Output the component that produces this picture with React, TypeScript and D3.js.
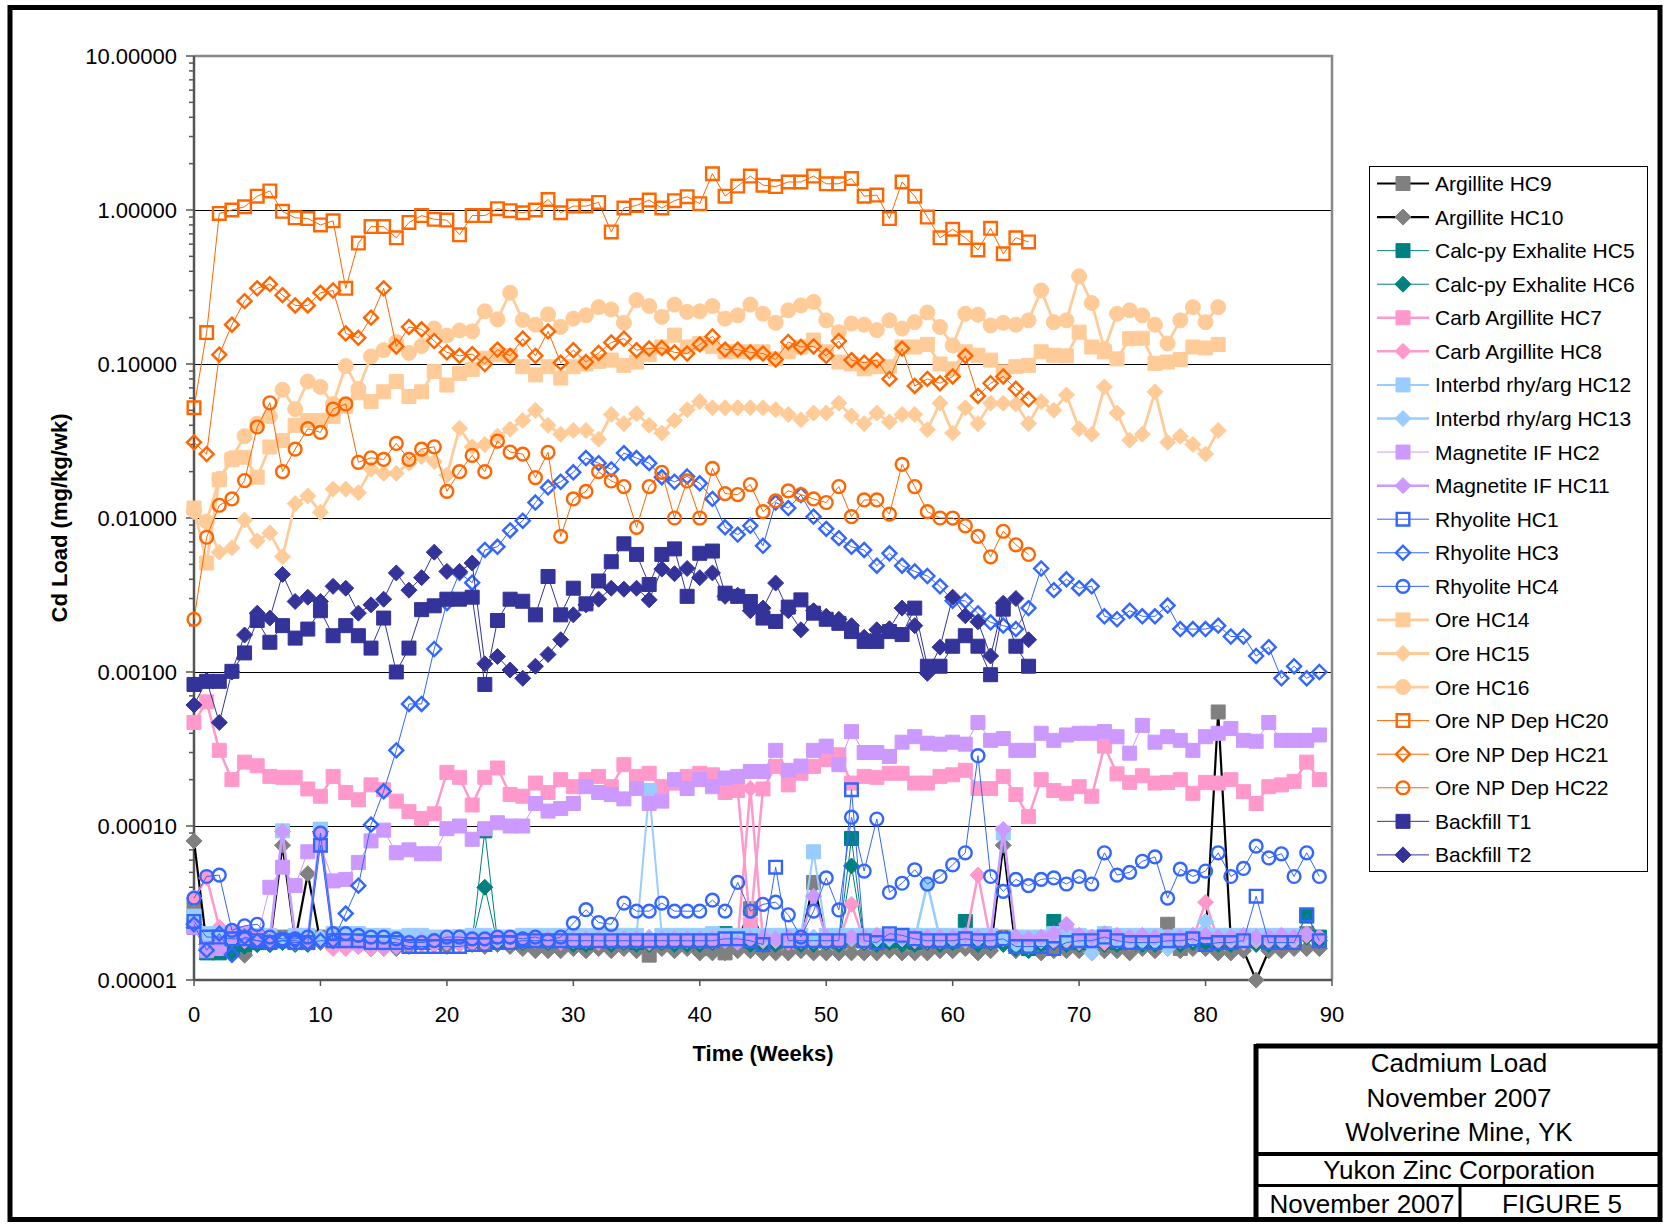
import React, { useEffect, useRef } from 'react';
import * as d3 from 'd3';

// weekly Cd load, mg/kg/wk (index = week)
const argilliteHC9 = [
  3.0e-5, 1.8e-5, 1.7e-5, 1.6e-5, 1.6e-5, 1.8e-5, 1.8e-5, 1.9e-5, 1.8e-5, 1.8e-5,
  1.9e-5, 1.8e-5, 1.8e-5, 1.75e-5, 1.8e-5, 1.75e-5, 1.8e-5, 1.9e-5, 1.9e-5, 1.85e-5,
  1.85e-5, 1.9e-5, 1.85e-5, 1.85e-5, 1.8e-5, 1.8e-5, 1.85e-5, 1.9e-5, 1.8e-5, 1.75e-5,
  1.8e-5, 1.8e-5, 1.8e-5, 1.75e-5, 1.8e-5, 1.8e-5, 1.45e-5, 1.8e-5, 1.8e-5, 1.75e-5,
  1.75e-5, 1.6e-5, 1.5e-5, 1.8e-5, 2.9e-5, 1.8e-5, 1.75e-5, 1.8e-5, 1.8e-5, 4.3e-5,
  1.8e-5, 1.75e-5, 1.8e-5, 1.8e-5, 1.8e-5, 1.75e-5, 1.8e-5, 1.8e-5, 1.75e-5, 1.8e-5,
  1.8e-5, 1.8e-5, 1.75e-5, 1.8e-5, 1.9e-5, 1.8e-5, 1.75e-5, 1.8e-5, 1.75e-5, 1.8e-5,
  1.75e-5, 1.8e-5, 1.8e-5, 1.75e-5, 1.8e-5, 1.8e-5, 1.8e-5, 2.3e-5, 1.6e-5, 1.8e-5,
  1.8e-5, 5.5e-4, 1.8e-5, 1.8e-5, 1.8e-5, 1.8e-5, 1.8e-5, 1.8e-5, 2.0e-5, 1.8e-5,
];
const argilliteHC10 = [
  8.0e-5, 1.7e-5, 1.6e-5, 1.5e-5, 1.45e-5, 1.7e-5, 1.7e-5, 7.5e-5, 1.8e-5, 4.9e-5,
  1.75e-5, 1.65e-5, 1.7e-5, 1.65e-5, 1.6e-5, 1.6e-5, 1.6e-5, 1.65e-5, 1.7e-5, 1.7e-5,
  1.65e-5, 1.7e-5, 1.7e-5, 1.65e-5, 1.7e-5, 1.65e-5, 1.6e-5, 1.55e-5, 1.55e-5, 1.55e-5,
  1.6e-5, 1.55e-5, 1.6e-5, 1.55e-5, 1.6e-5, 1.55e-5, 1.6e-5, 1.6e-5, 1.55e-5, 1.6e-5,
  1.5e-5, 1.5e-5, 1.5e-5, 1.55e-5, 1.55e-5, 1.5e-5, 1.5e-5, 1.5e-5, 1.55e-5, 1.5e-5,
  1.5e-5, 1.5e-5, 1.5e-5, 1.5e-5, 1.5e-5, 1.55e-5, 1.5e-5, 1.5e-5, 1.5e-5, 1.55e-5,
  1.55e-5, 1.6e-5, 1.5e-5, 1.55e-5, 7.5e-5, 1.55e-5, 1.6e-5, 1.5e-5, 1.55e-5, 1.55e-5,
  1.55e-5, 1.5e-5, 1.55e-5, 1.55e-5, 1.5e-5, 1.6e-5, 1.55e-5, 1.6e-5, 1.55e-5, 1.6e-5,
  1.6e-5, 1.5e-5, 1.5e-5, 1.55e-5, 1.0e-5, 1.55e-5, 1.55e-5, 1.6e-5, 1.6e-5, 1.6e-5,
];
const calcpyHC5 = [
  2.2e-5, 1.5e-5, 1.5e-5, 1.6e-5, 1.7e-5, 1.75e-5, 1.75e-5, 1.8e-5, 1.75e-5, 1.75e-5,
  9.5e-5, 1.8e-5, 1.8e-5, 1.75e-5, 1.8e-5, 1.75e-5, 1.8e-5, 1.8e-5, 1.75e-5, 1.75e-5,
  1.8e-5, 1.8e-5, 1.8e-5, 9.3e-5, 1.8e-5, 1.8e-5, 1.8e-5, 1.85e-5, 1.8e-5, 1.8e-5,
  1.8e-5, 1.75e-5, 1.8e-5, 1.8e-5, 1.8e-5, 1.75e-5, 1.8e-5, 1.8e-5, 1.8e-5, 1.8e-5,
  1.8e-5, 1.85e-5, 2.0e-5, 1.9e-5, 1.8e-5, 1.75e-5, 1.8e-5, 1.8e-5, 1.8e-5, 1.8e-5,
  1.8e-5, 1.8e-5, 8.3e-5, 1.8e-5, 1.75e-5, 1.8e-5, 1.8e-5, 1.75e-5, 1.8e-5, 1.8e-5,
  1.8e-5, 2.4e-5, 1.8e-5, 1.8e-5, 1.85e-5, 1.7e-5, 1.6e-5, 1.75e-5, 2.4e-5, 1.8e-5,
  1.75e-5, 1.8e-5, 1.8e-5, 1.75e-5, 1.8e-5, 1.75e-5, 1.8e-5, 1.8e-5, 1.8e-5, 1.85e-5,
  1.8e-5, 1.75e-5, 1.75e-5, 1.8e-5, 1.8e-5, 1.75e-5, 1.8e-5, 1.85e-5, 2.6e-5, 1.9e-5,
];
const calcpyHC6 = [
  2.2e-5, 1.55e-5, 1.6e-5, 1.5e-5, 1.65e-5, 1.7e-5, 1.7e-5, 1.75e-5, 1.7e-5, 1.7e-5,
  9.2e-5, 1.75e-5, 1.75e-5, 1.7e-5, 1.7e-5, 1.7e-5, 1.75e-5, 1.7e-5, 1.7e-5, 1.7e-5,
  1.75e-5, 1.7e-5, 1.75e-5, 4.0e-5, 1.75e-5, 1.75e-5, 1.75e-5, 1.8e-5, 1.75e-5, 1.75e-5,
  1.7e-5, 1.7e-5, 1.75e-5, 1.7e-5, 1.75e-5, 1.7e-5, 1.7e-5, 1.75e-5, 1.7e-5, 1.7e-5,
  1.7e-5, 1.75e-5, 1.8e-5, 1.75e-5, 1.7e-5, 1.7e-5, 1.7e-5, 1.75e-5, 1.7e-5, 1.7e-5,
  1.75e-5, 1.7e-5, 5.5e-5, 1.75e-5, 1.7e-5, 1.75e-5, 1.7e-5, 1.7e-5, 1.75e-5, 1.7e-5,
  1.75e-5, 1.8e-5, 1.7e-5, 1.75e-5, 1.7e-5, 1.6e-5, 1.55e-5, 1.7e-5, 1.75e-5, 1.7e-5,
  1.7e-5, 1.75e-5, 1.7e-5, 1.7e-5, 1.75e-5, 1.7e-5, 1.7e-5, 1.75e-5, 1.7e-5, 1.75e-5,
  1.75e-5, 1.7e-5, 1.7e-5, 1.75e-5, 1.7e-5, 1.7e-5, 1.75e-5, 1.8e-5, 1.9e-5, 1.8e-5,
];
const carbHC7 = [
  4.7e-4, 6.4e-4, 3.1e-4, 2.0e-4, 2.6e-4, 2.46e-4, 2.1e-4, 2.07e-4, 2.07e-4, 1.74e-4,
  1.56e-4, 2.1e-4, 1.65e-4, 1.48e-4, 1.85e-4, 1.72e-4, 1.45e-4, 1.24e-4, 1.12e-4, 1.2e-4,
  2.23e-4, 2.07e-4, 1.37e-4, 2.07e-4, 2.38e-4, 1.6e-4, 1.56e-4, 1.9e-4, 1.65e-4, 2.0e-4,
  1.8e-4, 2.0e-4, 2.1e-4, 1.8e-4, 2.5e-4, 2.1e-4, 2.2e-4, 1.8e-4, 1.9e-4, 2.1e-4,
  2.2e-4, 2.15e-4, 1.65e-4, 1.7e-4, 2.3e-5, 1.74e-4, 2.44e-4, 1.85e-4, 2.2e-4, 2.44e-4,
  2.7e-4, 2.9e-4, 1.9e-4, 2.1e-4, 2.07e-4, 2.2e-4, 2.2e-4, 1.9e-4, 1.9e-4, 2.1e-4,
  2.15e-4, 2.3e-4, 1.75e-4, 1.75e-4, 2.1e-4, 1.6e-4, 1.15e-4, 2.0e-4, 1.7e-4, 1.63e-4,
  1.8e-4, 1.56e-4, 3.3e-4, 2.18e-4, 1.92e-4, 2.12e-4, 1.9e-4, 1.92e-4, 2.0e-4, 1.63e-4,
  1.92e-4, 1.9e-4, 2.0e-4, 1.67e-4, 1.4e-4, 1.8e-4, 1.85e-4, 1.95e-4, 2.6e-4, 2.0e-4,
];
const carbHC8 = [
  3.4e-5, 4.6e-5, 2.2e-5, 1.9e-5, 1.8e-5, 1.8e-5, 1.75e-5, 1.8e-5, 1.75e-5, 1.75e-5,
  1.8e-5, 1.6e-5, 1.6e-5, 1.65e-5, 1.6e-5, 1.6e-5, 1.65e-5, 1.7e-5, 1.7e-5, 1.7e-5,
  1.75e-5, 1.7e-5, 1.75e-5, 1.75e-5, 1.8e-5, 1.75e-5, 1.8e-5, 1.8e-5, 1.8e-5, 1.75e-5,
  1.8e-5, 1.8e-5, 1.75e-5, 1.8e-5, 1.8e-5, 1.8e-5, 1.75e-5, 1.8e-5, 1.8e-5, 1.8e-5,
  1.8e-5, 1.8e-5, 1.85e-5, 1.8e-5, 1.75e-4, 1.8e-5, 1.8e-5, 1.75e-5, 1.8e-5, 1.8e-5,
  1.8e-5, 1.8e-5, 3.1e-5, 1.8e-5, 1.85e-5, 1.9e-5, 1.85e-5, 1.8e-5, 1.8e-5, 1.8e-5,
  1.85e-5, 1.8e-5, 4.8e-5, 1.8e-5, 1.85e-5, 1.8e-5, 1.75e-5, 1.8e-5, 1.8e-5, 1.8e-5,
  1.75e-5, 1.8e-5, 1.75e-5, 1.8e-5, 1.75e-5, 1.8e-5, 1.8e-5, 1.75e-5, 1.8e-5, 1.85e-5,
  3.2e-5, 1.8e-5, 1.8e-5, 1.75e-5, 1.8e-5, 1.8e-5, 1.8e-5, 1.8e-5, 1.95e-5, 1.9e-5,
];
const interbdHC12 = [
  2.6e-5, 2.0e-5, 2.0e-5, 1.95e-5, 1.95e-5, 1.95e-5, 1.95e-5, 9.3e-5, 1.95e-5, 1.95e-5,
  9.5e-5, 2.0e-5, 2.0e-5, 2.0e-5, 1.95e-5, 1.95e-5, 1.9e-5, 1.95e-5, 1.95e-5, 1.9e-5,
  1.9e-5, 1.9e-5, 1.95e-5, 1.95e-5, 1.9e-5, 1.9e-5, 1.95e-5, 1.95e-5, 1.95e-5, 1.95e-5,
  1.95e-5, 1.95e-5, 1.95e-5, 1.95e-5, 1.95e-5, 1.95e-5, 1.7e-4, 1.95e-5, 1.95e-5, 1.95e-5,
  1.95e-5, 2.0e-5, 1.95e-5, 1.95e-5, 1.95e-5, 1.95e-5, 1.95e-5, 1.95e-5, 1.95e-5, 6.8e-5,
  1.95e-5, 1.95e-5, 1.95e-5, 1.95e-5, 1.95e-5, 1.95e-5, 1.95e-5, 1.95e-5, 1.95e-5, 1.95e-5,
  1.95e-5, 1.95e-5, 1.95e-5, 1.95e-5, 9.0e-5, 1.9e-5, 1.9e-5, 1.9e-5, 2.0e-5, 2.0e-5,
  1.95e-5, 1.9e-5, 2.0e-5, 1.95e-5, 1.95e-5, 1.95e-5, 1.95e-5, 1.9e-5, 1.95e-5, 1.95e-5,
  1.95e-5, 1.95e-5, 1.95e-5, 1.95e-5, 1.95e-5, 1.95e-5, 1.95e-5, 1.95e-5,
];
const interbdHC13 = [
  2.5e-5, 1.55e-5, 1.8e-5, 1.85e-5, 1.85e-5, 1.85e-5, 1.85e-5, 1.85e-5, 1.85e-5, 1.85e-5,
  1.9e-5, 1.85e-5, 1.85e-5, 1.8e-5, 1.8e-5, 1.8e-5, 1.8e-5, 1.8e-5, 1.85e-5, 1.85e-5,
  1.85e-5, 1.85e-5, 1.85e-5, 1.85e-5, 1.85e-5, 1.85e-5, 1.85e-5, 1.85e-5, 1.85e-5, 1.85e-5,
  1.85e-5, 1.85e-5, 1.85e-5, 1.85e-5, 1.85e-5, 1.85e-5, 1.9e-5, 1.85e-5, 1.85e-5, 1.85e-5,
  1.85e-5, 1.85e-5, 1.85e-5, 1.85e-5, 1.85e-5, 1.85e-5, 1.85e-5, 1.85e-5, 1.85e-5, 1.9e-5,
  1.85e-5, 1.85e-5, 1.85e-5, 1.85e-5, 1.85e-5, 1.85e-5, 1.85e-5, 1.85e-5, 4.2e-5, 1.85e-5,
  1.85e-5, 1.85e-5, 1.85e-5, 1.85e-5, 1.85e-5, 1.7e-5, 1.65e-5, 1.8e-5, 1.85e-5, 1.85e-5,
  1.8e-5, 1.5e-5, 1.85e-5, 1.8e-5, 1.8e-5, 1.8e-5, 1.8e-5, 1.6e-5, 1.85e-5, 1.85e-5,
  2.4e-5, 1.85e-5, 1.85e-5, 1.85e-5, 1.85e-5, 1.85e-5, 1.85e-5, 1.85e-5,
];
const magnetiteHC2 = [
  2.2e-5, 1.55e-5, 1.6e-5, 2.0e-5, 2.0e-5, 1.9e-5, 4.0e-5, 5.4e-5, 4.1e-5, 6.8e-5,
  7.5e-5, 4.4e-5, 4.5e-5, 5.8e-5, 8.0e-5, 9.4e-5, 6.7e-5, 7.0e-5, 6.6e-5, 6.6e-5,
  9.6e-5, 1.0e-4, 8.2e-5, 9.6e-5, 1.05e-4, 1.0e-4, 1.0e-4, 1.4e-4, 1.25e-4, 1.3e-4,
  1.4e-4, 1.8e-4, 1.65e-4, 1.6e-4, 1.5e-4, 1.75e-4, 1.4e-4, 1.45e-4, 2.0e-4, 1.75e-4,
  2.0e-4, 1.8e-4, 2.05e-4, 2.1e-4, 2.26e-4, 2.26e-4, 3.1e-4, 2.3e-4, 2.45e-4, 3.1e-4,
  3.3e-4, 2.5e-4, 4.1e-4, 3.0e-4, 3.0e-4, 2.83e-4, 3.5e-4, 3.8e-4, 3.45e-4, 3.4e-4,
  3.5e-4, 3.4e-4, 4.7e-4, 3.6e-4, 3.7e-4, 3.1e-4, 3.1e-4, 4.0e-4, 3.6e-4, 3.9e-4,
  4.0e-4, 4.0e-4, 4.1e-4, 3.8e-4, 2.97e-4, 4.5e-4, 3.5e-4, 3.8e-4, 3.6e-4, 3.1e-4,
  3.8e-4, 4.0e-4, 4.3e-4, 3.6e-4, 3.55e-4, 4.7e-4, 3.6e-4, 3.6e-4, 3.6e-4, 3.9e-4,
];
const magnetiteHC11 = [
  2.3e-5, 1.6e-5, 1.8e-5, 1.85e-5, 1.85e-5, 1.85e-5, 1.8e-5, 9.2e-5, 1.85e-5, 1.8e-5,
  9.0e-5, 1.85e-5, 1.8e-5, 1.75e-5, 1.7e-5, 1.65e-5, 1.65e-5, 1.75e-5, 1.8e-5, 1.8e-5,
  1.8e-5, 1.8e-5, 1.8e-5, 1.8e-5, 1.85e-5, 1.85e-5, 1.85e-5, 1.85e-5, 1.85e-5, 1.8e-5,
  1.85e-5, 1.85e-5, 1.85e-5, 1.85e-5, 1.85e-5, 1.85e-5, 1.85e-5, 1.85e-5, 1.85e-5, 1.85e-5,
  1.85e-5, 1.85e-5, 1.8e-5, 1.75e-5, 1.85e-5, 1.9e-5, 1.85e-5, 1.9e-5, 1.9e-5, 3.5e-5,
  1.9e-5, 1.85e-5, 1.9e-5, 1.9e-5, 1.95e-5, 1.95e-5, 1.9e-5, 1.9e-5, 1.9e-5, 1.9e-5,
  1.9e-5, 1.95e-5, 1.9e-5, 1.9e-5, 9.5e-5, 1.9e-5, 1.85e-5, 1.9e-5, 2.0e-5, 2.3e-5,
  1.95e-5, 1.9e-5, 2.0e-5, 1.95e-5, 1.9e-5, 1.95e-5, 1.9e-5, 1.9e-5, 1.9e-5, 1.95e-5,
  1.95e-5, 1.9e-5, 1.9e-5, 1.95e-5, 1.9e-5, 1.9e-5, 1.95e-5, 1.9e-5, 2.0e-5, 1.9e-5,
];
const rhyoliteHC1 = [
  2.4e-5, 1.9e-5, 1.9e-5, 1.85e-5, 1.85e-5, 1.8e-5, 1.75e-5, 1.8e-5, 1.75e-5, 1.75e-5,
  7.5e-5, 1.8e-5, 1.8e-5, 1.8e-5, 1.75e-5, 1.75e-5, 1.75e-5, 1.65e-5, 1.65e-5, 1.65e-5,
  1.65e-5, 1.65e-5, 1.7e-5, 1.7e-5, 1.75e-5, 1.75e-5, 1.8e-5, 1.8e-5, 1.8e-5, 1.8e-5,
  1.8e-5, 1.8e-5, 1.8e-5, 1.8e-5, 1.8e-5, 1.8e-5, 1.8e-5, 1.8e-5, 1.8e-5, 1.8e-5,
  1.8e-5, 1.8e-5, 1.85e-5, 1.85e-5, 1.8e-5, 1.7e-5, 5.4e-5, 1.8e-5, 1.8e-5, 1.8e-5,
  1.8e-5, 1.8e-5, 1.72e-4, 1.8e-5, 1.75e-5, 2.0e-5, 1.95e-5, 1.85e-5, 1.8e-5, 1.8e-5,
  1.8e-5, 1.85e-5, 1.8e-5, 1.8e-5, 1.85e-5, 1.65e-5, 1.65e-5, 1.65e-5, 1.6e-5, 1.75e-5,
  1.8e-5, 1.8e-5, 1.9e-5, 1.8e-5, 1.75e-5, 1.75e-5, 1.75e-5, 1.8e-5, 1.8e-5, 1.85e-5,
  1.7e-5, 1.75e-5, 1.75e-5, 1.8e-5, 3.5e-5, 1.75e-5, 1.75e-5, 1.75e-5, 2.65e-5, 1.8e-5,
];
const rhyoliteHC3 = [
  2.3e-5, 1.56e-5, 2.0e-5, 1.46e-5, 1.9e-5, 1.8e-5, 1.75e-5, 1.8e-5, 1.8e-5, 1.75e-5,
  1.8e-5, 1.8e-5, 2.7e-5, 4.1e-5, 1.02e-4, 1.68e-4, 3.1e-4, 6.2e-4, 6.2e-4, 1.41e-3,
  2.8e-3, 4.4e-3, 3.8e-3, 6.2e-3, 6.5e-3, 8.3e-3, 9.6e-3, 1.26e-2, 1.58e-2, 1.72e-2,
  1.98e-2, 2.45e-2, 2.27e-2, 2.07e-2, 2.64e-2, 2.45e-2, 2.27e-2, 1.84e-2, 1.72e-2, 1.86e-2,
  1.68e-2, 1.33e-2, 8.7e-3, 7.8e-3, 8.9e-3, 6.6e-3, 1.26e-2, 1.16e-2, 1.41e-2, 1.02e-2,
  8.5e-3, 7.4e-3, 6.5e-3, 6.2e-3, 4.9e-3, 5.9e-3, 4.9e-3, 4.5e-3, 4.2e-3, 3.6e-3,
  2.9e-3, 2.9e-3, 2.4e-3, 2.1e-3, 2.0e-3, 1.9e-3, 2.6e-3, 4.7e-3, 3.4e-3, 4.0e-3,
  3.5e-3, 3.6e-3, 2.3e-3, 2.2e-3, 2.5e-3, 2.3e-3, 2.3e-3, 2.7e-3, 1.9e-3, 1.9e-3,
  1.9e-3, 2.0e-3, 1.7e-3, 1.7e-3, 1.27e-3, 1.45e-3, 9.1e-4, 1.09e-3, 9.1e-4, 1.0e-3,
];
const rhyoliteHC4 = [
  3.4e-5, 4.7e-5, 4.8e-5, 2.1e-5, 2.25e-5, 2.3e-5, 1.9e-5, 1.85e-5, 1.85e-5, 1.9e-5,
  9.0e-5, 2.0e-5, 2.0e-5, 1.95e-5, 1.9e-5, 1.9e-5, 1.85e-5, 1.75e-5, 1.75e-5, 1.8e-5,
  1.9e-5, 1.9e-5, 1.85e-5, 1.85e-5, 1.9e-5, 1.9e-5, 1.85e-5, 1.9e-5, 1.8e-5, 1.9e-5,
  2.34e-5, 2.86e-5, 2.36e-5, 2.3e-5, 3.16e-5, 2.8e-5, 2.8e-5, 3.16e-5, 2.8e-5, 2.8e-5,
  2.8e-5, 3.3e-5, 2.8e-5, 4.3e-5, 2.8e-5, 3.1e-5, 3.2e-5, 2.65e-5, 1.9e-5, 2.8e-5,
  4.6e-5, 2.85e-5, 1.14e-4, 5.1e-5, 1.11e-4, 3.7e-5, 4.25e-5, 5.2e-5, 4.2e-5, 4.7e-5,
  5.6e-5, 6.7e-5, 2.86e-4, 4.7e-5, 3.76e-5, 4.5e-5, 4.1e-5, 4.5e-5, 4.6e-5, 4.2e-5,
  4.7e-5, 4.2e-5, 6.7e-5, 4.8e-5, 5.0e-5, 5.9e-5, 6.3e-5, 3.4e-5, 5.25e-5, 4.7e-5,
  5.1e-5, 6.7e-5, 4.7e-5, 5.3e-5, 7.4e-5, 6.2e-5, 6.6e-5, 4.7e-5, 6.7e-5, 4.7e-5,
];
const oreHC14 = [
  0.0116, 0.0051, 0.0177, 0.0239, 0.0248, 0.0184, 0.0289, 0.0319, 0.040, 0.043,
  0.043, 0.0457, 0.053, 0.065, 0.057, 0.066, 0.077, 0.0615, 0.066, 0.0895,
  0.073, 0.087, 0.092, 0.109, 0.115, 0.113, 0.096, 0.085, 0.096, 0.081,
  0.096, 0.1, 0.104, 0.106, 0.098, 0.103, 0.115, 0.129, 0.154, 0.129,
  0.136, 0.13, 0.12, 0.12, 0.12, 0.12, 0.108, 0.12, 0.129, 0.143,
  0.12, 0.103, 0.1, 0.093, 0.096, 0.096, 0.129, 0.129, 0.134, 0.1,
  0.093, 0.12, 0.114, 0.106, 0.089, 0.096, 0.098, 0.12, 0.114, 0.113,
  0.161, 0.129, 0.12, 0.108, 0.146, 0.147, 0.101, 0.103, 0.107, 0.129,
  0.127, 0.134,
];
const oreHC15 = [
  0.011, 0.0092, 0.006, 0.0064, 0.0097, 0.0071, 0.008, 0.0056, 0.0124, 0.0139,
  0.0109, 0.0154, 0.0154, 0.0146, 0.0207, 0.0195, 0.0195, 0.0227, 0.025, 0.0233,
  0.019, 0.0383, 0.029, 0.030, 0.034, 0.0377, 0.043, 0.050, 0.040, 0.035,
  0.037, 0.037, 0.0325, 0.047, 0.041, 0.0475, 0.040, 0.0356, 0.043, 0.0505,
  0.057, 0.052, 0.052, 0.052, 0.052, 0.052, 0.0505, 0.047, 0.0435, 0.048,
  0.048, 0.0557, 0.046, 0.041, 0.048, 0.042, 0.047, 0.047, 0.0374, 0.0557,
  0.0356, 0.052, 0.041, 0.0557, 0.0557, 0.055, 0.041, 0.057, 0.05, 0.063,
  0.038, 0.035, 0.071, 0.048, 0.032, 0.035, 0.066, 0.031, 0.034, 0.03,
  0.026, 0.037,
];
const oreHC16 = [
  0.0112, 0.0095, 0.018, 0.0245, 0.034, 0.041, 0.0457, 0.068, 0.051, 0.077,
  0.071, 0.055, 0.097, 0.069, 0.112, 0.123, 0.139, 0.118, 0.131, 0.17,
  0.153, 0.165, 0.163, 0.22, 0.195, 0.29, 0.193, 0.18, 0.21, 0.174,
  0.197, 0.207, 0.234, 0.226, 0.185, 0.26, 0.238, 0.202, 0.243, 0.218,
  0.22, 0.238, 0.197, 0.207, 0.243, 0.212, 0.185, 0.223, 0.24, 0.253,
  0.192, 0.161, 0.183, 0.18, 0.166, 0.192, 0.17, 0.187, 0.216, 0.174,
  0.132, 0.212, 0.209, 0.178, 0.185, 0.18, 0.192, 0.30, 0.187, 0.192,
  0.371, 0.249, 0.125, 0.212, 0.223, 0.207, 0.18, 0.136, 0.192, 0.234,
  0.187, 0.234,
];
const oreNpHC20 = [
  0.052, 0.16, 0.95, 1.0, 1.05, 1.23, 1.33, 0.98, 0.89, 0.88,
  0.80, 0.85, 0.31, 0.61, 0.78, 0.78, 0.66, 0.83, 0.92, 0.87,
  0.86, 0.69, 0.92, 0.92, 1.02, 0.99, 0.96, 1.0, 1.17, 0.96,
  1.06, 1.06, 1.12, 0.72, 1.03, 1.07, 1.16, 1.03, 1.15, 1.22,
  1.10, 1.72, 1.23, 1.43, 1.66, 1.45, 1.42, 1.52, 1.52, 1.66,
  1.48, 1.48, 1.6, 1.23, 1.25, 0.88, 1.52, 1.23, 0.9, 0.66,
  0.75, 0.66, 0.55, 0.76, 0.52, 0.66, 0.62,
];
const oreNpHC21 = [
  0.031, 0.026, 0.115, 0.18, 0.256, 0.31, 0.33, 0.28, 0.24, 0.24,
  0.29, 0.30, 0.158, 0.148, 0.2, 0.31, 0.13, 0.174, 0.168, 0.141,
  0.119, 0.113, 0.116, 0.1, 0.124, 0.113, 0.146, 0.113, 0.163, 0.102,
  0.123, 0.103, 0.118, 0.138, 0.146, 0.123, 0.126, 0.127, 0.119, 0.117,
  0.134, 0.151, 0.124, 0.124, 0.119, 0.117, 0.107, 0.139, 0.129, 0.13,
  0.113, 0.141, 0.106, 0.102, 0.106, 0.08, 0.126, 0.072, 0.08, 0.075,
  0.083, 0.113, 0.062, 0.075, 0.083, 0.069, 0.059,
];
const oreNpHC22 = [
  0.0022, 0.0075, 0.0121, 0.0133, 0.0175, 0.039, 0.056, 0.020, 0.028, 0.038,
  0.036, 0.051, 0.055, 0.023, 0.0246, 0.024, 0.0305, 0.024, 0.028, 0.029,
  0.0149, 0.020, 0.0255, 0.020, 0.0316, 0.0268, 0.026, 0.0183, 0.0267, 0.0076,
  0.0133, 0.0149, 0.020, 0.0174, 0.016, 0.0087, 0.016, 0.0198, 0.01, 0.0174,
  0.01, 0.021, 0.0144, 0.0142, 0.0165, 0.011, 0.0129, 0.015, 0.0142, 0.0133,
  0.0126, 0.016, 0.0102, 0.0131, 0.0131, 0.0106, 0.0223, 0.016, 0.011, 0.01,
  0.01, 0.0089, 0.0076, 0.0056, 0.0082, 0.0067, 0.0058,
];
const backfillT1 = [
  8.3e-4, 8.7e-4, 8.7e-4, 1.01e-3, 1.33e-3, 2.16e-3, 1.56e-3, 2.0e-3, 1.66e-3, 1.9e-3,
  2.5e-3, 1.72e-3, 2.0e-3, 1.72e-3, 1.43e-3, 2.24e-3, 1.0e-3, 1.43e-3, 2.54e-3, 2.69e-3,
  2.97e-3, 2.97e-3, 3.06e-3, 8.3e-4, 2.16e-3, 2.97e-3, 2.88e-3, 2.35e-3, 4.17e-3, 2.35e-3,
  3.5e-3, 2.77e-3, 3.9e-3, 5.2e-3, 6.8e-3, 5.8e-3, 3.7e-3, 5.8e-3, 6.3e-3, 3.1e-3,
  5.9e-3, 6.1e-3, 3.25e-3, 3.1e-3, 2.87e-3, 2.24e-3, 2.13e-3, 2.64e-3, 2.94e-3, 2.41e-3,
  2.2e-3, 2.07e-3, 1.83e-3, 1.58e-3, 1.58e-3, 1.83e-3, 1.75e-3, 2.6e-3, 1.09e-3, 1.09e-3,
  1.47e-3, 1.72e-3, 1.47e-3, 9.6e-4, 2.56e-3, 1.47e-3, 1.09e-3,
];
const backfillT2 = [
  6.1e-4, 8.8e-4, 4.7e-4, 1.0e-3, 1.74e-3, 2.41e-3, 2.24e-3, 4.3e-3, 2.87e-3, 3.06e-3,
  2.87e-3, 3.6e-3, 3.5e-3, 2.41e-3, 2.73e-3, 2.97e-3, 4.4e-3, 3.4e-3, 4.1e-3, 6.0e-3,
  4.5e-3, 4.5e-3, 5.1e-3, 1.13e-3, 1.26e-3, 1.03e-3, 9.1e-4, 1.09e-3, 1.3e-3, 1.62e-3,
  2.35e-3, 2.73e-3, 2.97e-3, 3.5e-3, 3.45e-3, 3.5e-3, 2.94e-3, 4.66e-3, 4.35e-3, 4.7e-3,
  4.1e-3, 4.4e-3, 3.1e-3, 3.15e-3, 2.5e-3, 2.6e-3, 3.78e-3, 2.5e-3, 1.88e-3, 2.5e-3,
  2.3e-3, 2.2e-3, 2.0e-3, 1.68e-3, 1.88e-3, 1.91e-3, 2.6e-3, 2.0e-3, 9.8e-4, 1.45e-3,
  3.06e-3, 2.32e-3, 2.12e-3, 1.27e-3, 2.8e-3, 3.0e-3, 1.62e-3,
];

const yTickValues = [10, 1, 0.1, 0.01, 0.001, 0.0001, 0.00001];
const yTickLabels = ['10.00000', '1.00000', '0.10000', '0.01000', '0.00100', '0.00010', '0.00001'];
const xTickValues = [0, 10, 20, 30, 40, 50, 60, 70, 80, 90];
const titleLines = ['Cadmium Load', 'November 2007', 'Wolverine Mine, YK'];

type Shape = 'square' | 'diamond' | 'circle';
interface Series {
  name: string;
  values: number[];
  line: string;
  marker: string;
  width: number;
  shape: Shape;
  open: boolean;
}

const series: Series[] = [
  { name: 'Argillite HC9', values: argilliteHC9, line: '#000000', marker: '#808080', width: 2.2, shape: 'square', open: false },
  { name: 'Argillite HC10', values: argilliteHC10, line: '#000000', marker: '#808080', width: 2.2, shape: 'diamond', open: false },
  { name: 'Calc-py Exhalite HC5', values: calcpyHC5, line: '#008080', marker: '#008080', width: 1, shape: 'square', open: false },
  { name: 'Calc-py Exhalite HC6', values: calcpyHC6, line: '#008080', marker: '#008080', width: 1, shape: 'diamond', open: false },
  { name: 'Carb Argillite HC7', values: carbHC7, line: '#FF99CC', marker: '#FF99CC', width: 2.5, shape: 'square', open: false },
  { name: 'Carb Argillite HC8', values: carbHC8, line: '#FF99CC', marker: '#FF99CC', width: 2.5, shape: 'diamond', open: false },
  { name: 'Interbd rhy/arg HC12', values: interbdHC12, line: '#99CCFF', marker: '#99CCFF', width: 2, shape: 'square', open: false },
  { name: 'Interbd rhy/arg HC13', values: interbdHC13, line: '#99CCFF', marker: '#99CCFF', width: 2.5, shape: 'diamond', open: false },
  { name: 'Magnetite IF HC2', values: magnetiteHC2, line: '#CC99FF', marker: '#CC99FF', width: 1, shape: 'square', open: false },
  { name: 'Magnetite IF HC11', values: magnetiteHC11, line: '#CC99FF', marker: '#CC99FF', width: 2.5, shape: 'diamond', open: false },
  { name: 'Rhyolite HC1', values: rhyoliteHC1, line: '#3366FF', marker: '#3366FF', width: 1, shape: 'square', open: true },
  { name: 'Rhyolite HC3', values: rhyoliteHC3, line: '#3366FF', marker: '#3366FF', width: 1, shape: 'diamond', open: true },
  { name: 'Rhyolite HC4', values: rhyoliteHC4, line: '#3366FF', marker: '#3366FF', width: 1, shape: 'circle', open: true },
  { name: 'Ore HC14', values: oreHC14, line: '#FFCC99', marker: '#FFCC99', width: 2.8, shape: 'square', open: false },
  { name: 'Ore HC15', values: oreHC15, line: '#FFCC99', marker: '#FFCC99', width: 2.8, shape: 'diamond', open: false },
  { name: 'Ore HC16', values: oreHC16, line: '#FFCC99', marker: '#FFCC99', width: 2.8, shape: 'circle', open: false },
  { name: 'Ore NP Dep HC20', values: oreNpHC20, line: '#FF6600', marker: '#FF6600', width: 1, shape: 'square', open: true },
  { name: 'Ore NP Dep HC21', values: oreNpHC21, line: '#FF6600', marker: '#FF6600', width: 1, shape: 'diamond', open: true },
  { name: 'Ore NP Dep HC22', values: oreNpHC22, line: '#FF6600', marker: '#FF6600', width: 1, shape: 'circle', open: true },
  { name: 'Backfill T1', values: backfillT1, line: '#333399', marker: '#333399', width: 1, shape: 'square', open: false },
  { name: 'Backfill T2', values: backfillT2, line: '#333399', marker: '#333399', width: 1, shape: 'diamond', open: false },
];

const FONT = 'Liberation Sans, Arial, Helvetica, sans-serif';

const markerPath = (shape: Shape, cx: number, cy: number, open: boolean): string => {
  if (shape === 'square') {
    const s = open ? 6.3 : 7;
    return `M${cx - s},${cy - s}h${2 * s}v${2 * s}h${-2 * s}Z`;
  }
  if (shape === 'diamond') {
    const d = open ? 7 : 8;
    return `M${cx},${cy - d}L${cx + d},${cy}L${cx},${cy + d}L${cx - d},${cy}Z`;
  }
  const r = open ? 6.4 : 7.5;
  return `M${cx - r},${cy}a${r},${r} 0 1,0 ${2 * r},0a${r},${r} 0 1,0 ${-2 * r},0Z`;
};

const App: React.FC = () => {
  const ref = useRef<SVGSVGElement | null>(null);

  useEffect(() => {
    const svg = d3.select(ref.current);
    svg.selectAll('*').remove();

    const left = 194, right = 1332, top = 56, bottom = 980;
    const x = d3.scaleLinear().domain([0, 90]).range([left, right]);
    const y = d3.scaleLog().domain([0.00001, 10]).range([bottom, top]);
    const crisp = (v: number) => Math.round(v) + 0.5;

    svg.append('rect').attr('width', 1663).attr('height', 1227).attr('fill', '#fff');

    // gridlines
    svg.append('g')
      .selectAll('line')
      .data(yTickValues.filter(v => v < 10 && v > 0.00001))
      .enter()
      .append('line')
      .attr('x1', left).attr('x2', right)
      .attr('y1', d => crisp(y(d))).attr('y2', d => crisp(y(d)))
      .attr('stroke', '#000').attr('stroke-width', 1);

    // plot border top/right
    svg.append('path')
      .attr('d', `M${left},${top}H${right}V${bottom}`)
      .attr('fill', 'none').attr('stroke', '#888').attr('stroke-width', 2.5);

    // y axis with minor ticks
    const yAxis = svg.append('g').attr('stroke', '#555');
    yAxis.append('line').attr('x1', left).attr('x2', left).attr('y1', top).attr('y2', bottom).attr('stroke-width', 2.5);
    const minor: number[] = [];
    yTickValues.slice(1).forEach(base => {
      [2, 3, 4, 5, 6, 7, 8, 9].forEach(k => minor.push(base * k));
    });
    yAxis.selectAll('line.minor').data(minor).enter().append('line')
      .attr('class', 'minor')
      .attr('x1', left - 5).attr('x2', left)
      .attr('y1', d => y(d)).attr('y2', d => y(d)).attr('stroke-width', 1.5);
    yAxis.selectAll('line.major').data(yTickValues).enter().append('line')
      .attr('class', 'major')
      .attr('x1', left - 8).attr('x2', left)
      .attr('y1', d => y(d)).attr('y2', d => y(d)).attr('stroke-width', 1.5);

    svg.append('g').selectAll('text').data(yTickValues).enter().append('text')
      .attr('x', left - 17).attr('y', d => y(d) + 8)
      .attr('text-anchor', 'end').attr('font-family', FONT).attr('font-size', 22)
      .text((d, i) => yTickLabels[i]);

    // x axis
    const xAxis = svg.append('g').attr('stroke', '#555');
    xAxis.append('line').attr('x1', left).attr('x2', right).attr('y1', bottom).attr('y2', bottom).attr('stroke-width', 2.5);
    xAxis.selectAll('line.tick').data(xTickValues).enter().append('line')
      .attr('class', 'tick')
      .attr('x1', d => x(d)).attr('x2', d => x(d))
      .attr('y1', bottom).attr('y2', bottom + 6).attr('stroke-width', 1.5);
    svg.append('g').selectAll('text').data(xTickValues).enter().append('text')
      .attr('x', d => x(d)).attr('y', bottom + 42)
      .attr('text-anchor', 'middle').attr('font-family', FONT).attr('font-size', 22)
      .text(d => String(d));

    svg.append('text')
      .attr('x', (left + right) / 2).attr('y', 1061)
      .attr('text-anchor', 'middle').attr('font-family', FONT).attr('font-size', 22).attr('font-weight', 'bold')
      .text('Time (Weeks)');
    svg.append('text')
      .attr('transform', `translate(67,${(top + bottom) / 2}) rotate(-90)`)
      .attr('text-anchor', 'middle').attr('font-family', FONT).attr('font-size', 22).attr('font-weight', 'bold')
      .text('Cd Load (mg/kg/wk)');

    // series
    const line = d3.line<number>().x((d, i) => x(i)).y(d => y(d));
    series.forEach(s => {
      const g = svg.append('g');
      g.append('path')
        .attr('d', line(s.values) as string)
        .attr('fill', 'none').attr('stroke', s.line).attr('stroke-width', s.width)
        .attr('stroke-linejoin', 'round');
      g.selectAll('path.m').data(s.values).enter().append('path')
        .attr('class', 'm')
        .attr('d', (d, i) => markerPath(s.shape, x(i), y(d), s.open))
        .attr('fill', s.open ? 'none' : s.marker)
        .attr('stroke', s.marker)
        .attr('stroke-width', s.open ? 2.4 : 1);
    });

    // legend
    const lg = svg.append('g');
    lg.append('rect').attr('x', 1369.5).attr('y', 166.5).attr('width', 278).attr('height', 705)
      .attr('fill', '#fff').attr('stroke', '#000').attr('stroke-width', 1);
    series.forEach((s, i) => {
      const ly = 183.5 + i * 33.57;
      lg.append('line').attr('x1', 1377).attr('x2', 1429).attr('y1', ly).attr('y2', ly)
        .attr('stroke', s.line).attr('stroke-width', s.width);
      lg.append('path').attr('d', markerPath(s.shape, 1403, ly, s.open))
        .attr('fill', s.open ? 'none' : s.marker).attr('stroke', s.marker)
        .attr('stroke-width', s.open ? 2.4 : 1);
      lg.append('text').attr('x', 1435).attr('y', ly + 7.5)
        .attr('font-family', FONT).attr('font-size', 21).text(s.name);
    });

    // outer frame
    svg.append('rect').attr('x', 10).attr('y', 7.5).attr('width', 1650).attr('height', 1212)
      .attr('fill', 'none').attr('stroke', '#000').attr('stroke-width', 5);

    // title block
    const tb = svg.append('g').attr('stroke', '#000');
    tb.append('line').attr('x1', 1256).attr('x2', 1660).attr('y1', 1046).attr('y2', 1046).attr('stroke-width', 5);
    tb.append('line').attr('x1', 1256).attr('x2', 1256).attr('y1', 1044).attr('y2', 1220).attr('stroke-width', 5);
    tb.append('line').attr('x1', 1256).attr('x2', 1660).attr('y1', 1154).attr('y2', 1154).attr('stroke-width', 4);
    tb.append('line').attr('x1', 1256).attr('x2', 1660).attr('y1', 1185.5).attr('y2', 1185.5).attr('stroke-width', 3);
    tb.append('line').attr('x1', 1460).attr('x2', 1460).attr('y1', 1185).attr('y2', 1220).attr('stroke-width', 3);
    const cx = 1459;
    titleLines.forEach((t, i) => {
      svg.append('text').attr('x', cx).attr('y', 1072 + i * 34.5)
        .attr('text-anchor', 'middle').attr('font-family', FONT).attr('font-size', 26).text(t);
    });
    svg.append('text').attr('x', cx).attr('y', 1179)
      .attr('text-anchor', 'middle').attr('font-family', FONT).attr('font-size', 26).text('Yukon Zinc Corporation');
    svg.append('text').attr('x', 1362).attr('y', 1213)
      .attr('text-anchor', 'middle').attr('font-family', FONT).attr('font-size', 26).text('November 2007');
    svg.append('text').attr('x', 1562).attr('y', 1213)
      .attr('text-anchor', 'middle').attr('font-family', FONT).attr('font-size', 26).text('FIGURE 5');
  }, []);

  return (
    <div style={{ position: 'absolute', left: 0, top: 0 }}>
      <svg ref={ref} width={1663} height={1227} />
    </div>
  );
};

export default App;
